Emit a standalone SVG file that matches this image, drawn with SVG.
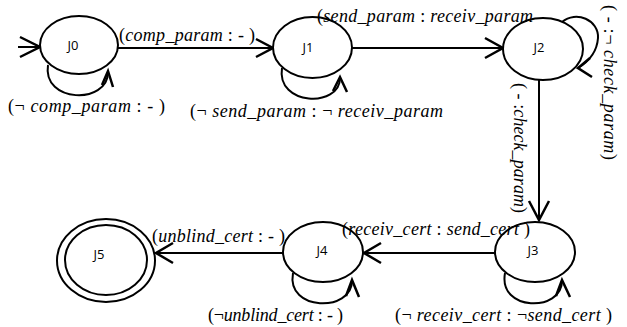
<svg xmlns="http://www.w3.org/2000/svg" width="627" height="327" viewBox="0 0 627 327">
<style>
.n{fill:#fff;stroke:#000;stroke-width:2}
.nt{font-family:"Open Sans","Liberation Sans",sans-serif;font-size:13px;fill:#000;text-anchor:middle;dominant-baseline:central}
.e{fill:none;stroke:#000;stroke-width:2}
.a{fill:none;stroke:#000;stroke-width:2.5;stroke-linejoin:miter}
.l{font-family:"Liberation Serif","Times New Roman",serif;font-size:18px;fill:#000}
.i{font-style:italic}
</style>
<rect width="627" height="327" fill="#fff"/>
<g id="connectors">
  <path class="e" d="M18,47 L40,47"/>
  <path class="a" d="M20,37 L40,47 L20,57"/>
  <path class="e" d="M48,65 C42,103 108,105 108,72"/>
  <path class="a" d="M102,85 L108,71 L113,87"/>
  <path class="e" d="M118,48 L273,48"/>
  <path class="a" d="M256,39 L273,48 L256,57"/>
  <path class="e" d="M282,68 C276,106 340,108 340,78"/>
  <path class="a" d="M333,91 L340,77 L347,92"/>
  <path class="e" d="M352,48 L503,48"/>
  <path class="a" d="M485,38 L503,48 L485,58"/>
  <path class="e" d="M562,22 C576,10 599,20 598,38 C597,52 588,62 578,68"/>
  <path class="a" d="M590,58 L578,68 L592,77"/>
  <path class="e" d="M539,80 L539,220"/>
  <path class="a" d="M529,201 L539,220 L549,201"/>
  <path class="e" d="M505,273 C498,312 562,312 562,281"/>
  <path class="a" d="M556,296 L562,280 L570,297"/>
  <path class="e" d="M495,253 L364,253"/>
  <path class="a" d="M381,243 L364,253 L381,263"/>
  <path class="e" d="M293,273 C286,312 352,312 352,281"/>
  <path class="a" d="M346,296 L352,280 L359,297"/>
  <path class="e" d="M283,253 L156,253"/>
  <path class="a" d="M173,243 L156,253 L173,263"/>
</g>
<g id="J0"><ellipse class="n" cx="79" cy="45" rx="39" ry="29"/><text class="nt" x="73" y="45">J0</text></g>
<g id="J1"><ellipse class="n" cx="312.5" cy="47.5" rx="39.5" ry="30.5"/><text class="nt" x="308" y="47">J1</text></g>
<g id="J2"><ellipse class="n" cx="543" cy="49" rx="40" ry="31"/><text class="nt" x="539" y="47">J2</text></g>
<g id="J3"><ellipse class="n" cx="535" cy="252" rx="40" ry="30"/><text class="nt" x="533" y="250">J3</text></g>
<g id="J4"><ellipse class="n" cx="323" cy="252" rx="40" ry="30"/><text class="nt" x="322" y="250">J4</text></g>
<g id="J5"><ellipse class="n" cx="106" cy="260.5" rx="49" ry="41.5"/><ellipse class="n" cx="106" cy="260" rx="41" ry="35"/><text class="nt" x="99" y="254">J5</text></g>
<g id="labels">
  <text class="l" x="119" y="41" textLength="136" lengthAdjust="spacing">(<tspan class="i">comp_param</tspan> : - )</text>
  <text class="l" x="8" y="112" textLength="157" lengthAdjust="spacing">(¬ <tspan class="i">comp_param</tspan> : - )</text>
  <text class="l" x="317" y="22" textLength="216" lengthAdjust="spacing">(<tspan class="i">send_param</tspan> :  <tspan class="i">receiv_param</tspan></text>
  <text class="l" x="190" y="117" textLength="253" lengthAdjust="spacing">(¬ <tspan class="i">send_param</tspan> : ¬ <tspan class="i">receiv_param</tspan></text>
  <text class="l" transform="translate(604,5) rotate(90)" textLength="155" lengthAdjust="spacing">( - :¬ <tspan class="i">check_param</tspan>)</text>
  <text class="l" transform="translate(514,83) rotate(90)" textLength="130" lengthAdjust="spacing">( - :<tspan class="i">check_param</tspan>)</text>
  <text class="l" x="342" y="235" textLength="188" lengthAdjust="spacing">(<tspan class="i">receiv_cert</tspan> : <tspan class="i">send_cert</tspan> )</text>
  <text class="l" x="395" y="321" textLength="217" lengthAdjust="spacing">(¬ <tspan class="i">receiv_cert</tspan> : ¬<tspan class="i">send_cert</tspan> )</text>
  <text class="l" x="152" y="242" textLength="133" lengthAdjust="spacing">(<tspan class="i">unblind_cert</tspan> : - )</text>
  <text class="l" x="208" y="321" textLength="135" lengthAdjust="spacing">(¬<tspan class="i">unblind_cert</tspan> : - )</text>
</g>
</svg>
